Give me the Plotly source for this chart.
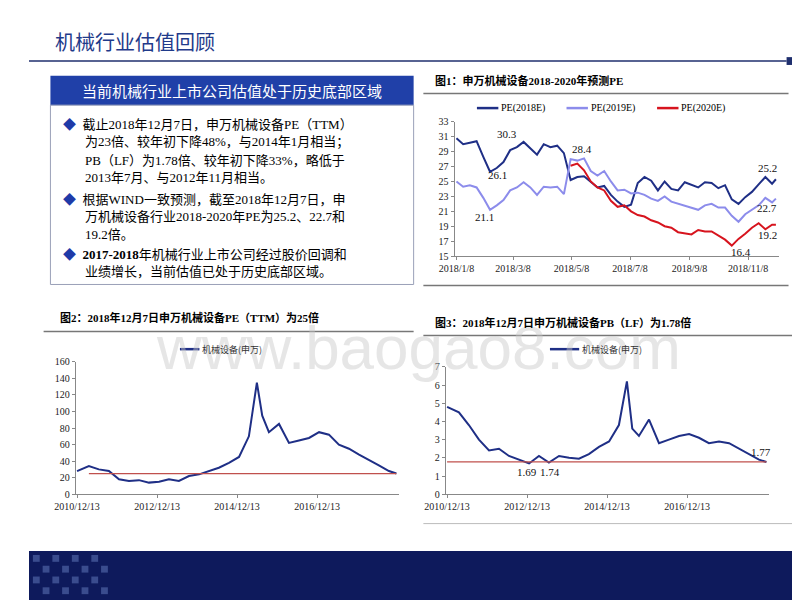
import plotly.graph_objects as go

# ---------------- data ----------------
weeks = ["2018-01-08","2018-01-15","2018-01-22","2018-01-29","2018-02-05","2018-02-12","2018-02-19","2018-02-26",
         "2018-03-05","2018-03-12","2018-03-19","2018-03-26","2018-04-02","2018-04-09","2018-04-16","2018-04-23",
         "2018-04-30","2018-05-07","2018-05-14","2018-05-21","2018-05-28","2018-06-04","2018-06-11","2018-06-18",
         "2018-06-25","2018-07-02","2018-07-09","2018-07-16","2018-07-23","2018-07-30","2018-08-06","2018-08-13",
         "2018-08-20","2018-08-27","2018-09-03","2018-09-10","2018-09-17","2018-09-24","2018-10-01","2018-10-08",
         "2018-10-15","2018-10-22","2018-10-29","2018-11-05","2018-11-12","2018-11-19","2018-11-26","2018-12-03","2018-12-07"]
pe2018 = [30.8,30.0,30.2,30.4,28.3,26.3,26.8,27.6,29.2,29.6,30.3,29.5,28.6,30.0,29.6,29.8,28.8,25.2,25.6,25.7,25.0,
          24.2,24.4,23.2,22.3,21.6,21.9,24.8,25.6,25.1,23.8,25.0,24.0,23.8,24.9,24.5,24.2,24.9,24.8,24.1,24.5,22.6,
          22.0,22.9,23.6,24.6,25.6,24.7,25.3]
pe2019 = [25.0,24.3,24.5,24.2,22.8,21.2,21.8,22.5,23.8,24.2,24.9,24.2,23.2,24.3,24.2,24.3,23.3,28.0,27.8,28.1,26.4,
          25.8,26.4,25.0,23.8,23.9,23.4,23.5,23.2,22.7,22.4,23.0,22.3,22.0,21.8,21.5,21.2,21.8,22.0,21.5,21.5,20.4,
          19.6,20.6,21.2,21.8,22.8,22.2,22.7]
pe2020 = [None]*17 + [27.1,27.4,26.5,25.0,24.2,23.8,22.4,21.6,21.8,21.0,20.5,20.3,19.8,19.5,19.0,18.8,18.2,18.0,
                      17.9,18.5,18.3,18.3,17.8,17.2,16.4,17.3,18.0,18.8,19.4,18.6,19.2,19.2]
c1_ticks = ["2018-01-08","2018-03-08","2018-05-08","2018-07-08","2018-09-08","2018-11-08"]
c1_ticktext = ["2018/1/8","2018/3/8","2018/5/8","2018/7/8","2018/9/8","2018/11/8"]

hist_dates = ["2010-12-13","2011-03-31","2011-06-30","2011-09-30","2011-12-31","2012-03-31","2012-06-30","2012-09-30",
              "2012-12-31","2013-03-31","2013-06-30","2013-09-30","2013-12-31","2014-03-31","2014-06-30","2014-09-30",
              "2014-12-31","2015-03-31","2015-06-12","2015-07-31","2015-09-30","2015-12-31","2016-03-31","2016-06-30",
              "2016-09-30","2016-12-31","2017-03-31","2017-06-30","2017-09-30","2017-12-31","2018-03-31","2018-06-30",
              "2018-09-30","2018-12-07"]
pe_ttm = [28,34,30,28,18,16,17,14,15,18,16,22,24,28,32,38,45,70,135,95,75,85,62,65,68,75,72,60,55,48,42,35,28,25]
pb_lf = [4.8,4.5,3.8,3.0,2.4,2.5,2.1,1.9,1.69,2.1,1.74,2.1,2.0,1.95,2.2,2.6,2.9,3.8,6.2,3.6,3.2,4.1,2.8,3.0,3.2,
         3.3,3.1,2.8,2.9,2.8,2.5,2.2,1.9,1.77]
hist_ticks = ["2010-12-13","2012-12-13","2014-12-13","2016-12-13"]
hist_ticktext = ["2010/12/13","2012/12/13","2014/12/13","2016/12/13"]

NAVY = "#1F2F86"
LIGHT = "#8C8CEB"
RED = "#D7141E"

def px(x): return x/800
def py(y): return 1 - y/600

fig = go.Figure()
fig.add_trace(go.Scatter(x=weeks, y=pe2018, mode="lines", line=dict(color=NAVY, width=2), xaxis="x", yaxis="y"))
fig.add_trace(go.Scatter(x=weeks, y=pe2019, mode="lines", line=dict(color=LIGHT, width=2), xaxis="x", yaxis="y"))
fig.add_trace(go.Scatter(x=weeks, y=pe2020, mode="lines", line=dict(color=RED, width=2), xaxis="x", yaxis="y"))
fig.add_trace(go.Scatter(x=hist_dates, y=pe_ttm, mode="lines", line=dict(color=NAVY, width=2), xaxis="x2", yaxis="y2"))
fig.add_trace(go.Scatter(x=[hist_dates[1], hist_dates[-1]], y=[25, 25], mode="lines", line=dict(color="#C0504D", width=1.2), xaxis="x2", yaxis="y2"))
fig.add_trace(go.Scatter(x=hist_dates, y=pb_lf, mode="lines", line=dict(color=NAVY, width=2), xaxis="x3", yaxis="y3"))
fig.add_trace(go.Scatter(x=[hist_dates[0], hist_dates[-1]], y=[1.78, 1.78], mode="lines", line=dict(color="#C0504D", width=1.2), xaxis="x3", yaxis="y3"))

tf = dict(family="Times New Roman, Liberation Serif, serif", size=10, color="#222")
axc = dict(showgrid=False, zeroline=False, showline=True, linecolor="#888", ticks="outside", ticklen=3, tickcolor="#888", tickfont=tf)
fig.update_layout(
    width=800, height=600, margin=dict(l=0, r=0, t=0, b=0), showlegend=False,
    paper_bgcolor="white", plot_bgcolor="rgba(0,0,0,0)",
    xaxis=dict(axc, domain=[px(437), px(770)], anchor="y", range=["2018-01-06", "2018-12-10"],
               tickvals=c1_ticks, ticktext=c1_ticktext),
    yaxis=dict(axc, domain=[py(247), py(110)], anchor="x", range=[15, 33], tick0=15, dtick=2),
    xaxis2=dict(axc, domain=[px(48), px(380)], anchor="y2", range=["2010-12-01", "2018-12-31"],
                tickvals=hist_ticks, ticktext=hist_ticktext),
    yaxis2=dict(axc, domain=[py(490), py(355)], anchor="x2", range=[0, 160], dtick=20),
    xaxis3=dict(axc, domain=[px(428), px(760)], anchor="y3", range=["2010-12-01", "2018-12-31"],
                tickvals=hist_ticks, ticktext=hist_ticktext),
    yaxis3=dict(axc, domain=[py(490), py(360)], anchor="x3", range=[0, 7], dtick=1),
)

shapes = []
ann = []
CJK = "Noto Sans CJK SC"
def text(x, y, s, size=12, color="#000", bold=False, anchor="left", font=CJK):
    if bold: s = "<b>" + s + "</b>"
    ann.append(dict(x=px(x), y=py(y), xref="paper", yref="paper",
                    text=s, showarrow=False, xanchor=anchor, yanchor="middle",
                    font=dict(family=font, size=size, color=color)))
def hline(x0, x1, y, color, w=1):
    shapes.append(dict(type="line", xref="paper", yref="paper", x0=px(x0), x1=px(x1), y0=py(y), y1=py(y), line=dict(color=color, width=w)))
def rect(x0, y0, x1, y1, fill, line=None, w=1):
    shapes.append(dict(type="rect", xref="paper", yref="paper", x0=px(x0), x1=px(x1), y0=py(y1), y1=py(y0),
                       fillcolor=fill, line=dict(color=line or fill, width=w if line else 0), layer="below"))

# watermark
text(400, 340, "www.baogao8.com", size=62, color="rgba(200,200,200,0.45)", anchor="center", font="Arial, Liberation Sans")

# slide title
text(25, 28, "机械行业估值回顾", size=20, color="#1F3A8A")
hline(0, 778, 48, "#1F2F6E", 1.5)
rect(778, 44, 786, 52, "#1F2F6E")

# left box
rect(22, 63, 395, 93, "#2040A8")
text(208, 78, "当前机械行业上市公司估值处于历史底部区域", size=15, color="white", anchor="center")
rect(22, 93, 395, 276, "rgba(0,0,0,0)", line="#9AA0B8", w=1)
B = "#1F3AA8"
lines = [(33, 113, "<span style='color:%s'>◆</span>  截止2018年12月7日，申万机械设备PE（TTM）" % B),
         (55, 131, "为23倍、较年初下降48%，与2014年1月相当；"),
         (55, 149, "PB（LF）为1.78倍、较年初下降33%，略低于"),
         (55, 167, "2013年7月、与2012年11月相当。"),
         (33, 189, "<span style='color:%s'>◆</span>  根据WIND一致预测，截至2018年12月7日，申" % B),
         (55, 207, "万机械设备行业2018-2020年PE为25.2、22.7和"),
         (55, 225, "19.2倍。"),
         (33, 245, "<span style='color:%s'>◆</span>  <b>2017-2018</b>年机械行业上市公司经过股价回调和" % B),
         (55, 263, "业绩增长，当前估值已处于历史底部区域。")]
for x, y, s in lines:
    text(x, y, s, size=13, font="Liberation Serif, " + CJK)

# chart 1 header / legend
text(415, 68, "图1：申万机械设备2018-2020年预测PE", size=11, bold=True, font="Liberation Serif, " + CJK)
hline(405, 780, 81, "#777", 1.5)
hline(405, 780, 277, "#777", 1.5)
for x0, col, lab in [(460, NAVY, "PE(2018E)"), (552, LIGHT, "PE(2019E)"), (645, RED, "PE(2020E)")]:
    hline(x0, x0 + 22, 96, col, 2.5)
    text(x0 + 23, 96, lab, size=10, font="Liberation Serif")
c1lab = [("2018-03-02", 31.4, "30.3"), ("2018-02-20", 25.9, "26.1"), ("2018-02-06", 20.2, "21.1"),
         ("2018-05-19", 29.4, "28.4"), ("2018-11-28", 26.8, "25.2"), ("2018-11-28", 21.5, "22.7"),
         ("2018-11-01", 15.6, "16.4"), ("2018-11-28", 17.8, "19.2")]
for d, v, s in c1lab:
    ann.append(dict(x=d, y=v, xref="x", yref="y", text=s, showarrow=False, font=dict(family="Liberation Serif", size=11, color="#111")))

# chart 2 header / legend
text(30, 310, "图2：2018年12月7日申万机械设备PE（TTM）为25倍", size=11, bold=True, font="Liberation Serif, " + CJK)
hline(15, 395, 324, "#777", 1.5)
hline(155, 175, 342, NAVY, 2.5)
text(176, 342, "机械设备(申万)", size=9, color="#333")

# chart 3 header / legend
text(415, 315, "图3：2018年12月7日申万机械设备PB（LF）为1.78倍", size=11, bold=True, font="Liberation Serif, " + CJK)
hline(405, 790, 328, "#777", 1.5)
hline(405, 790, 520, "#bbb", 1)
hline(535, 565, 342, NAVY, 2.5)
text(566, 342, "机械设备(申万)", size=9, color="#333")
for d, v, s in [("2012-12-15", 1.2, "1.69"), ("2013-07-10", 1.2, "1.74"), ("2018-10-20", 2.3, "1.77")]:
    ann.append(dict(x=d, y=v, xref="x3", yref="y3", text=s, showarrow=False, font=dict(family="Liberation Serif", size=11, color="#111")))

# footer
rect(0, 548, 800, 600, "#0E1A5C")
for i in range(8):
    for j in range(4):
        if (i + j) % 2 == 0:
            rect(4 + i * 10, 552 + j * 11, 11 + i * 10, 559 + j * 11, "#3A4C8E")

fig.update_layout(shapes=shapes, annotations=ann)
fig.write_html("out.html")
